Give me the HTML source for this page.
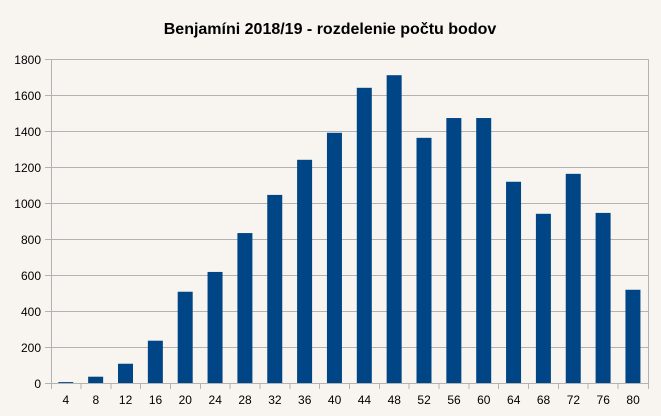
<!DOCTYPE html><html><head><style>body{margin:0;background:#f8f5f0}svg{display:block}text{font-family:"Liberation Sans",sans-serif}</style></head><body>
<svg width="661" height="416" xmlns="http://www.w3.org/2000/svg">
<rect width="661" height="416" fill="#f8f5f0"/>
<text x="330" y="34" text-anchor="middle" font-size="16" font-weight="bold" fill="#000">Benjamíni 2018/19 - rozdelenie počtu bodov</text>
<g stroke="#b3b3b3" stroke-width="1">
<line x1="45" x2="648" y1="383.5" y2="383.5"/><line x1="45" x2="648" y1="347.5" y2="347.5"/><line x1="45" x2="648" y1="311.5" y2="311.5"/><line x1="45" x2="648" y1="275.5" y2="275.5"/><line x1="45" x2="648" y1="239.5" y2="239.5"/><line x1="45" x2="648" y1="203.5" y2="203.5"/><line x1="45" x2="648" y1="167.5" y2="167.5"/><line x1="45" x2="648" y1="131.5" y2="131.5"/><line x1="45" x2="648" y1="95.5" y2="95.5"/><line x1="45" x2="648" y1="59.5" y2="59.5"/>
<line x1="51.5" x2="51.5" y1="59" y2="389"/><line x1="648.5" x2="648.5" y1="59" y2="389"/>
<line x1="81" x2="81" y1="383" y2="389"/><line x1="111" x2="111" y1="383" y2="389"/><line x1="140.5" x2="140.5" y1="383" y2="389"/><line x1="170.5" x2="170.5" y1="383" y2="389"/><line x1="200.5" x2="200.5" y1="383" y2="389"/><line x1="230" x2="230" y1="383" y2="389"/><line x1="260" x2="260" y1="383" y2="389"/><line x1="290" x2="290" y1="383" y2="389"/><line x1="319.5" x2="319.5" y1="383" y2="389"/><line x1="349.5" x2="349.5" y1="383" y2="389"/><line x1="379.5" x2="379.5" y1="383" y2="389"/><line x1="409" x2="409" y1="383" y2="389"/><line x1="439" x2="439" y1="383" y2="389"/><line x1="469" x2="469" y1="383" y2="389"/><line x1="498.5" x2="498.5" y1="383" y2="389"/><line x1="528.5" x2="528.5" y1="383" y2="389"/><line x1="558.5" x2="558.5" y1="383" y2="389"/><line x1="588" x2="588" y1="383" y2="389"/><line x1="618" x2="618" y1="383" y2="389"/>
</g>
<g font-size="12" text-anchor="end" fill="#000">
<text x="41" y="388">0</text><text x="41" y="352">200</text><text x="41" y="316">400</text><text x="41" y="280">600</text><text x="41" y="244">800</text><text x="41" y="208">1000</text><text x="41" y="172">1200</text><text x="41" y="136">1400</text><text x="41" y="100">1600</text><text x="41" y="64">1800</text>
</g>
<g fill="#004586">
<rect x="58.3" y="382.1" width="15" height="0.9"/>
<rect x="88.15" y="376.7" width="15" height="6.3"/>
<rect x="118" y="363.74" width="15" height="19.26"/>
<rect x="147.85" y="340.7" width="15" height="42.3"/>
<rect x="177.7" y="291.74" width="15" height="91.26"/>
<rect x="207.55" y="271.94" width="15" height="111.06"/>
<rect x="237.4" y="233.06" width="15" height="149.94"/>
<rect x="267.25" y="194.9" width="15" height="188.1"/>
<rect x="297.1" y="159.8" width="15" height="223.2"/>
<rect x="326.95" y="132.8" width="15" height="250.2"/>
<rect x="356.8" y="87.8" width="15" height="295.2"/>
<rect x="386.65" y="75.2" width="15" height="307.8"/>
<rect x="416.5" y="137.84" width="15" height="245.16"/>
<rect x="446.35" y="118.04" width="15" height="264.96"/>
<rect x="476.2" y="118.04" width="15" height="264.96"/>
<rect x="506.05" y="181.76" width="15" height="201.24"/>
<rect x="535.9" y="213.8" width="15" height="169.2"/>
<rect x="565.75" y="173.84" width="15" height="209.16"/>
<rect x="595.6" y="212.9" width="15" height="170.1"/>
<rect x="625.45" y="289.76" width="15" height="93.24"/>
</g>
<g font-size="12" text-anchor="middle" fill="#000">
<text x="65.9" y="404">4</text><text x="95.8" y="404">8</text><text x="125.6" y="404">12</text><text x="155.5" y="404">16</text><text x="185.3" y="404">20</text><text x="215.2" y="404">24</text><text x="245" y="404">28</text><text x="274.9" y="404">32</text><text x="304.7" y="404">36</text><text x="334.6" y="404">40</text><text x="364.4" y="404">44</text><text x="394.3" y="404">48</text><text x="424.1" y="404">52</text><text x="454" y="404">56</text><text x="483.8" y="404">60</text><text x="513.7" y="404">64</text><text x="543.5" y="404">68</text><text x="573.4" y="404">72</text><text x="603.2" y="404">76</text><text x="633.1" y="404">80</text>
</g>
</svg></body></html>
